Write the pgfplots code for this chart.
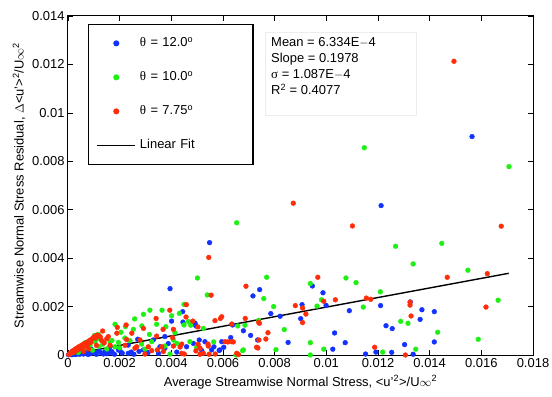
\documentclass[border=0pt]{standalone}
\usepackage{pgfplots}
\pgfplotsset{compat=1.18}
\usepackage{fontspec}
\setmainfont{Liberation Sans}
\newfontfamily\serif{Liberation Serif}
\definecolor{mblue}{RGB}{20,50,255}
\definecolor{mgreen}{RGB}{30,240,20}
\definecolor{mred}{RGB}{255,45,10}
\begin{document}
\begin{tikzpicture}
\begin{axis}[
  scale only axis, width=465bp, height=339bp,
  xmin=0, xmax=0.018, ymin=0, ymax=0.014,
  xtick={0,0.002,...,0.018}, ytick={0,0.002,...,0.014},
  scaled ticks=false,
  /pgf/number format/fixed, /pgf/number format/precision=3,
  /pgf/number format/assume math mode=true,
  tick label style={font=\fontsize{13}{15}\selectfont},
  label style={font=\fontsize{13}{15}\selectfont},
  tick align=inside, major tick length=5bp,
  axis line style={line width=1bp},
  every tick/.style={line width=0.6bp, black},
  clip=false,
  xlabel={Average Streamwise Normal Stress, <u'\textsuperscript{2}>/U$\infty$\textsuperscript{2}},
  ylabel={Streamwise Normal Stress Residual, $\Delta$<u'>\textsuperscript{2}/U$\infty$\textsuperscript{2}},
  xlabel style={yshift=-1bp},
  ylabel style={yshift=0bp},
  legend style={at={(rel axis cs:0.0430,0.9764)}, anchor=north west, draw=black, line width=1.2bp,
    inner xsep=8bp, inner ysep=12.5bp, column sep=4bp, row sep=21.5bp,
    nodes={inner sep=0pt, text height=9.5bp, text depth=3bp, text width=105bp, align=left,
      font=\fontsize{13}{15}\selectfont}},
  legend cell align=left,
  markimg/.style={legend image code/.code={\path[draw=none,fill=none] (0,-1bp) rectangle (38bp,1bp); \path plot[only marks] coordinates {(19bp,0)};}},
]
\addplot[only marks, mark=*, mark size=2.4bp, color=mblue, mark options={fill=mblue, draw=mblue}, markimg]
coordinates {
(0.01564,0.00902)(0.01212,0.00617)(0.00946,0.00285)(0.00742,0.00270)(0.00987,0.00257)(0.00716,0.00244)
(0.00999,0.00205)(0.01325,0.00219)(0.01210,0.00204)(0.00906,0.00208)(0.01370,0.00187)(0.01418,0.00179)
(0.01089,0.00183)(0.00785,0.00171)(0.00821,0.00160)(0.00901,0.00150)(0.01363,0.00147)(0.01231,0.00121)
(0.01255,0.00109)(0.01032,0.00091)(0.00852,0.00052)(0.01073,0.00051)(0.01418,0.00054)(0.01303,0.00043)
(0.01025,0.00024)(0.01192,0.00012)(0.01253,0.00011)(0.01152,0.00004)(0.01336,0.00003)(0.00707,0.00081)
(0.00548,0.00464)(0.00395,0.00274)(0.00444,0.00179)(0.00445,0.00136)(0.00492,0.00131)(0.00630,0.00072)
(0.00603,0.00032)(0.00585,0.00019)(0.00565,0.00034)(0.00508,0.00062)(0.00518,0.00018)(0.00459,0.00034)
(0.00421,0.00012)(0.00388,0.00047)(0.00330,0.00062)(0.00356,0.00034)(0.00292,0.00021)(0.00270,0.00065)
(0.00201,0.00018)(0.00163,0.00010)(0.00137,0.00004)(0.00233,0.00007)(0.00350,0.00007)
(0.00233,0.00041)(0.00195,0.00021)(0.00143,0.00014)(0.00105,0.00010)(0.00066,0.00007)(0.00027,0.00003)
(0.00401,0.00140)(0.00495,0.00120)(0.00637,0.00124)(0.00679,0.00100)(0.00734,0.00062)(0.00595,0.00055)
(0.00588,0.00021)(0.00556,0.00021)(0.00530,0.00055)(0.00485,0.00048)(0.00375,0.00076)(0.00375,0.00028)
(0.00002,0.00001)(0.00008,0.00002)(0.00015,0.00001)(0.00022,0.00004)(0.00030,0.00002)(0.00037,0.00006)
(0.00045,0.00003)(0.00052,0.00008)(0.00060,0.00004)(0.00070,0.00010)(0.00078,0.00002)(0.00088,0.00006)
(0.00095,0.00012)(0.00110,0.00003)(0.00120,0.00016)(0.00130,0.00008)(0.00150,0.00005)(0.00170,0.00014)
(0.00180,0.00003)(0.00210,0.00008)(0.00245,0.00012)(0.00255,0.00003)(0.00275,0.00015)(0.00310,0.00010)
(0.00050,0.00020)(0.00090,0.00025)(0.00160,0.00028)
};
\addlegendentry{{\serif θ} = 12.0\textsuperscript{o}}
\addplot[only marks, mark=*, mark size=2.4bp, color=mgreen, mark options={fill=mgreen, draw=mgreen}, markimg]
coordinates {
(0.01147,0.00856)(0.01707,0.00778)(0.01447,0.00461)(0.01268,0.00449)(0.01336,0.00376)(0.01548,0.00350)
(0.00769,0.00321)(0.01076,0.00318)(0.01115,0.00299)(0.00938,0.00295)(0.01209,0.00261)(0.00758,0.00233)
(0.00981,0.00228)(0.00796,0.00200)(0.01143,0.00198)(0.00964,0.00202)(0.01665,0.00226)(0.01288,0.00139)
(0.01316,0.00131)(0.00738,0.00143)(0.00837,0.00105)(0.01431,0.00094)(0.01588,0.00065)(0.00938,0.00051)
(0.00805,0.00022)(0.00990,0.00024)(0.01346,0.00024)(0.01218,0.00012)(0.00938,0.00000)
(0.00653,0.00546)(0.00501,0.00318)(0.00539,0.00248)(0.00449,0.00209)(0.00364,0.00185)(0.00258,0.00149)
(0.00401,0.00162)(0.00431,0.00172)(0.00317,0.00185)(0.00292,0.00168)(0.00182,0.00127)(0.00222,0.00117)
(0.00253,0.00106)(0.00286,0.00120)(0.00343,0.00127)(0.00475,0.00123)(0.00524,0.00110)(0.00685,0.00123)
(0.00676,0.00018)(0.00650,0.00000)(0.00564,0.00054)(0.00375,0.00037)(0.00408,0.00062)(0.00315,0.00085)
(0.00285,0.00045)(0.00240,0.00059)(0.00182,0.00034)(0.00395,0.00004)
(0.00205,0.00094)(0.00102,0.00080)(0.00117,0.00085)(0.00163,0.00055)(0.00195,0.00052)(0.00324,0.00055)
(0.00298,0.00024)(0.00449,0.00124)(0.00466,0.00138)(0.00379,0.00117)(0.00414,0.00092)(0.00657,0.00120)
(0.00679,0.00021)(0.00472,0.00055)(0.00421,0.00048)(0.00498,0.00032)
(0.00010,0.00006)(0.00025,0.00014)(0.00040,0.00010)(0.00055,0.00025)(0.00070,0.00030)(0.00085,0.00040)
(0.00095,0.00020)(0.00105,0.00055)(0.00120,0.00035)(0.00135,0.00045)(0.00150,0.00025)(0.00170,0.00060)
(0.00200,0.00030)(0.00220,0.00070)(0.00065,0.00050)(0.00115,0.00068)
};
\addlegendentry{{\serif θ} = 10.0\textsuperscript{o}}
\addplot[only marks, mark=*, mark size=2.4bp, color=mred, mark options={fill=mred, draw=mred}, markimg]
coordinates {
(0.01494,0.01213)(0.00872,0.00627)(0.01101,0.00533)(0.01677,0.00532)(0.01623,0.00336)(0.01468,0.00321)
(0.00967,0.00321)(0.01155,0.00235)(0.01172,0.00230)(0.00990,0.00222)(0.01035,0.00228)(0.01324,0.00218)
(0.01324,0.00206)(0.00880,0.00204)(0.00908,0.00194)(0.01618,0.00198)(0.00921,0.00169)(0.01328,0.00161)
(0.00908,0.00134)(0.00741,0.00131)(0.00774,0.00092)(0.00766,0.00066)(0.00739,0.00062)(0.01187,0.00032)
(0.00735,0.00029)(0.01306,0.00000)
(0.00545,0.00403)(0.00554,0.00247)(0.00689,0.00284)(0.00458,0.00208)(0.00394,0.00185)(0.00341,0.00151)
(0.00457,0.00157)(0.00590,0.00151)(0.00595,0.00158)(0.00686,0.00151)(0.00738,0.00135)(0.00191,0.00114)
(0.00134,0.00099)(0.00292,0.00110)(0.00368,0.00106)(0.00503,0.00116)(0.00634,0.00128)(0.00619,0.00054)
(0.00640,0.00054)(0.00542,0.00045)(0.00570,0.00004)(0.00504,0.00044)(0.00511,0.00003)(0.00434,0.00033)
(0.00450,0.00004)(0.00405,0.00072)(0.00343,0.00078)(0.00324,0.00018)(0.00266,0.00034)(0.00221,0.00040)
(0.00163,0.00040)(0.00150,0.00067)(0.00298,0.00004)(0.00660,0.00002)
(0.00225,0.00124)(0.00189,0.00090)(0.00247,0.00090)(0.00156,0.00076)(0.00227,0.00064)(0.00279,0.00062)
(0.00311,0.00034)(0.00259,0.00028)(0.00346,0.00021)
(0.00569,0.00142)(0.00483,0.00140)(0.00408,0.00106)(0.00730,0.00032)(0.00653,0.00007)(0.00634,0.00055)
(0.00608,0.00055)(0.00543,0.00037)(0.00495,0.00017)(0.00440,0.00045)(0.00408,0.00037)(0.00369,0.00014)
(0.00363,0.00034)(0.00440,0.00007)(0.00511,0.00028)(0.00524,0.00007)(0.00546,0.00003)
(0.00003,0.00002)(0.00006,0.00005)(0.00010,0.00008)(0.00014,0.00012)(0.00017,0.00016)(0.00020,0.00010)
(0.00022,0.00019)(0.00026,0.00022)(0.00029,0.00016)(0.00031,0.00026)(0.00035,0.00029)(0.00038,0.00021)
(0.00041,0.00032)(0.00044,0.00035)(0.00047,0.00027)(0.00050,0.00038)(0.00054,0.00041)(0.00057,0.00033)
(0.00060,0.00044)(0.00064,0.00047)(0.00067,0.00038)(0.00070,0.00050)(0.00074,0.00053)(0.00077,0.00045)
(0.00080,0.00057)(0.00084,0.00060)(0.00088,0.00052)(0.00091,0.00065)(0.00095,0.00068)(0.00099,0.00072)
(0.00103,0.00077)(0.00107,0.00070)(0.00112,0.00082)(0.00118,0.00080)(0.00125,0.00075)(0.00130,0.00060)
(0.00080,0.00025)(0.00060,0.00015)(0.00110,0.00040)(0.00140,0.00050)
};
\addlegendentry{{\serif θ} = 7.75\textsuperscript{o}}
\addplot[black, line width=1.4bp,
  legend image code/.code={\draw[line width=1.4bp] (0,0) -- (38bp,0);}]
coordinates {(0,0) (0.01706,0.003374)};
\addlegendentry{Linear Fit}
\node[draw=black!7, anchor=north west, inner sep=0pt, minimum width=151bp, minimum height=83bp]
  at (rel axis cs:0.4237,0.9528) {};
\node[anchor=north west, inner sep=0pt, align=left, font=\fontsize{13}{16}\selectfont]
  at (rel axis cs:0.4366,0.936)
  {Mean = 6.334E$-$4\\Slope = 0.1978\\{\serif σ} = 1.087E$-$4\\R\textsuperscript{2} = 0.4077};
\end{axis}
\pgfresetboundingbox
\path[use as bounding box] ([xshift=-68bp,yshift=-42bp]current axis.south west) rectangle ([xshift=19bp,yshift=16bp]current axis.north east);
\end{tikzpicture}
\end{document}
